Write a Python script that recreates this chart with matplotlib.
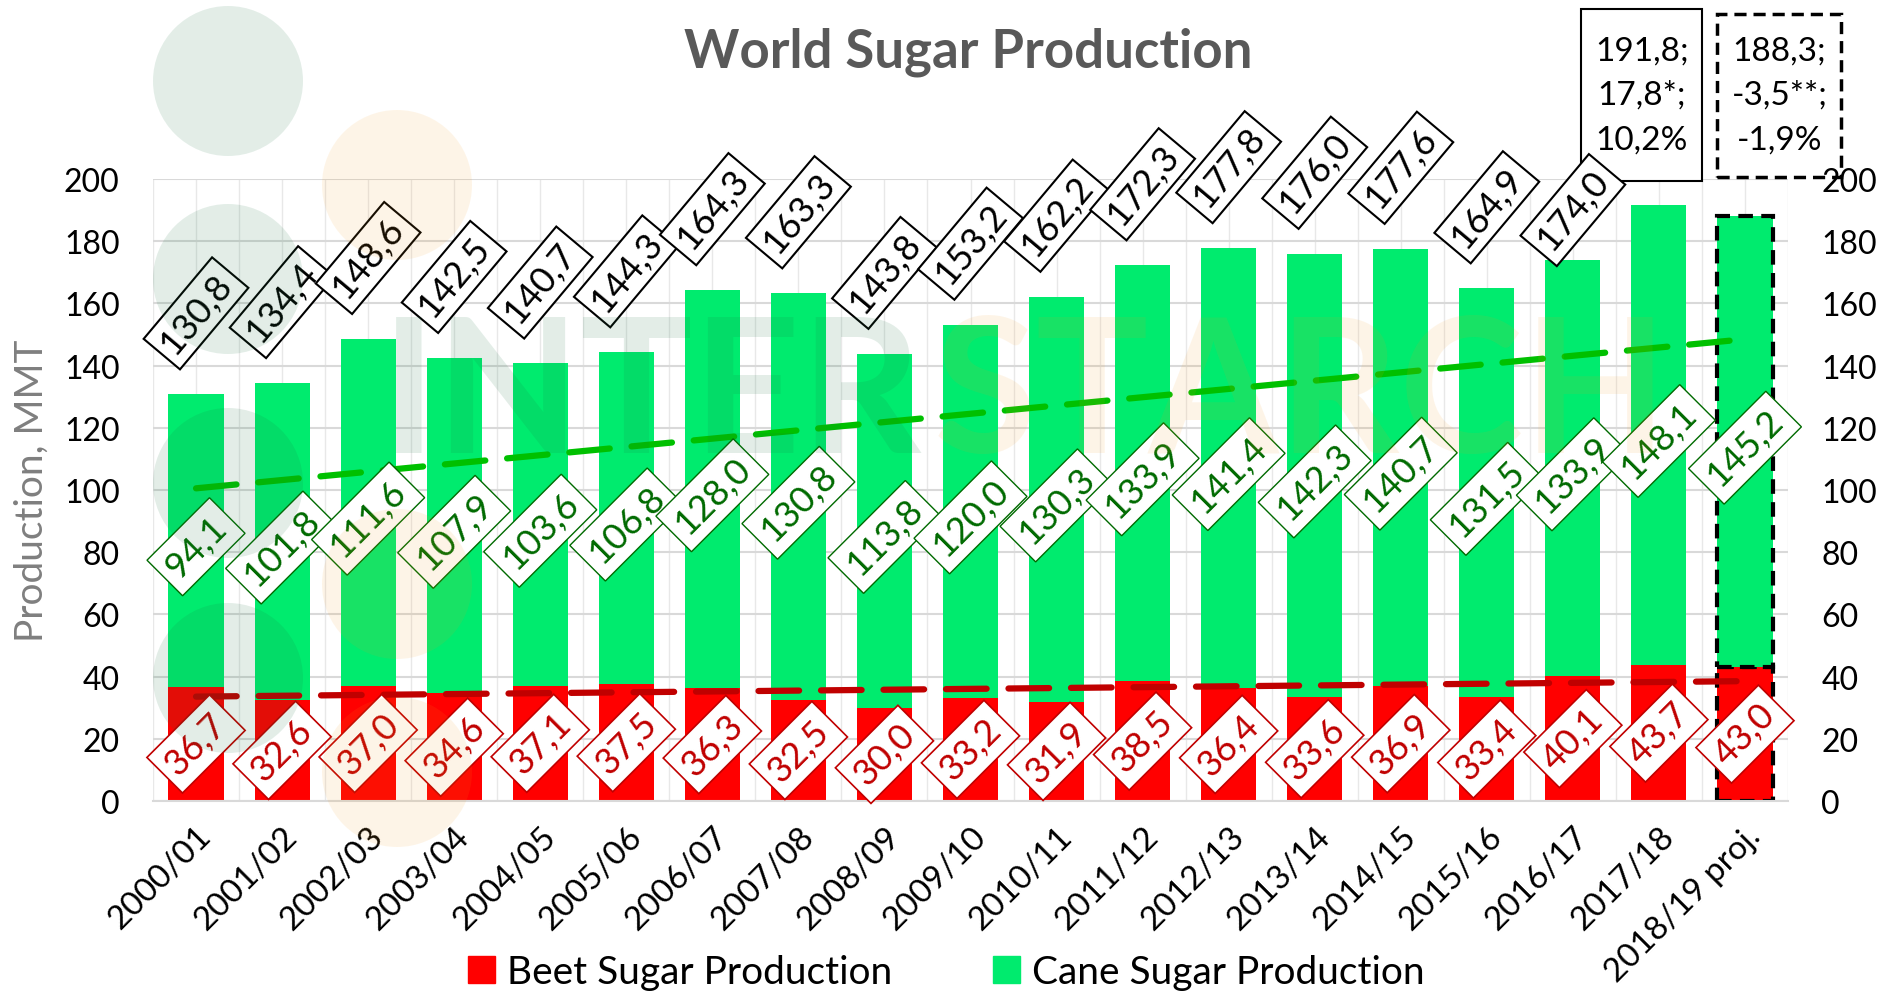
import matplotlib.pyplot as plt
import numpy as np
from matplotlib.patches import Patch, Rectangle, Ellipse

plt.rcParams['font.family'] = ['Lato', 'DejaVu Sans']

seasons = ["2000/01", "2001/02", "2002/03", "2003/04", "2004/05", "2005/06",
           "2006/07", "2007/08", "2008/09", "2009/10", "2010/11", "2011/12",
           "2012/13", "2013/14", "2014/15", "2015/16", "2016/17", "2017/18",
           "2018/19 proj."]
beet = [36.7, 32.6, 37.0, 34.6, 37.1, 37.5, 36.3, 32.5, 30.0, 33.2,
        31.9, 38.5, 36.4, 33.6, 36.9, 33.4, 40.1, 43.7, 43.0]
cane = [94.1, 101.8, 111.6, 107.9, 103.6, 106.8, 128.0, 130.8, 113.8, 120.0,
        130.3, 133.9, 141.4, 142.3, 140.7, 131.5, 133.9, 148.1, 145.2]
totals = [130.8, 134.4, 148.6, 142.5, 140.7, 144.3, 164.3, 163.3, 143.8, 153.2,
          162.2, 172.3, 177.8, 176.0, 177.6, 164.9, 174.0, 191.8, 188.3]
box_last = ["191,8;", "17,8*;", "10,2%"]
box_proj = ["188,3;", "-3,5**;", "-1,9%"]

W, H = 1885, 995
RED = '#ff0000'
GREEN = '#00eb6e'
DARK_RED = '#c00000'
DARK_GREEN = '#006a00'
LABEL_FS = 26


def fmt(v):
    return f"{v:.1f}".replace('.', ',')


fig = plt.figure(figsize=(W / 100, H / 100), dpi=100)
ax = fig.add_axes([153 / W, 1 - 802 / H, (1788 - 153) / W, (802 - 180) / H])

x = np.arange(len(seasons))
beet_a = np.array(beet)
cane_a = np.array(cane)

# grid
for g in np.arange(-0.5, len(seasons), 0.5):
    ax.axvline(g, color='#e8e8e8', lw=1, zorder=0)
ax.set_yticks(np.arange(0, 201, 20))
ax.yaxis.grid(True, color='#d9d9d9', lw=1.5, zorder=0)
ax.set_axisbelow(True)

b1 = ax.bar(x, beet_a, width=0.64, color=RED, zorder=2)
b2 = ax.bar(x, cane_a, bottom=beet_a, width=0.64, color=GREEN, zorder=2)
for b in (b1[-1], b2[-1]):
    b.set_edgecolor('black')
    b.set_linestyle((0, (3.5, 2)))
    b.set_linewidth(3)

# trend lines
for vals, col in ((beet_a, DARK_RED), (cane_a, '#00c000')):
    k, c0 = np.polyfit(x, vals, 1)
    ax.plot(x, k * x + c0, color=col, lw=4.5, dashes=(6.5, 3.5),
            dash_capstyle='round', zorder=3)

# data labels
for i in range(len(seasons)):
    ax.text(i, beet[i] / 2, fmt(beet[i]), rotation=45, ha='center', va='center',
            color=DARK_RED, fontsize=LABEL_FS, zorder=6,
            bbox=dict(boxstyle='square,pad=0.24', fc='white', ec=DARK_RED, lw=1.2))
    ax.text(i, beet[i] + cane[i] / 2 - 2, fmt(cane[i]), rotation=45, ha='center',
            va='center', color=DARK_GREEN, fontsize=LABEL_FS, zorder=6,
            bbox=dict(boxstyle='square,pad=0.24', fc='white', ec=DARK_GREEN, lw=1.0))
    if i < len(seasons) - 2:
        lift = 16 if i == len(seasons) - 3 else 26
        ax.text(i, totals[i] + lift, fmt(totals[i]), rotation=50, ha='center',
                va='center', color='black', fontsize=LABEL_FS, zorder=8,
                bbox=dict(boxstyle='square,pad=0.2', fc='white', ec='black', lw=1.5))

# summary boxes above last two bars
ax.add_patch(Rectangle((16.09, 199.4), 1.41, 55.3, fc='white', ec='black',
                       lw=1.5, clip_on=False, zorder=6))
ax.text(16.8, 227, "\n".join(box_last), ha='center', va='center', fontsize=24,
        linespacing=1.6, zorder=7, clip_on=False)
ax.add_patch(Rectangle((17.67, 200.6), 1.45, 52.4, fc='white', ec='black',
                       lw=2.5, ls=(0, (3.5, 2)), clip_on=False, zorder=6))
ax.text(18.4, 227, "\n".join(box_proj), ha='center', va='center', fontsize=24,
        linespacing=1.6, zorder=7, clip_on=False)

ax.set_xlim(-0.5, len(seasons) - 0.5)
ax.set_ylim(0, 200)
ax.set_xticks(x)
ax.set_xticklabels(seasons, rotation=45, ha='right', rotation_mode='anchor',
                   fontsize=24)
ax.tick_params(axis='x', length=0, pad=14)
ax.tick_params(axis='y', length=0, pad=24, labelsize=23)
for s in ('left', 'right', 'top'):
    ax.spines[s].set_visible(False)
ax.spines['bottom'].set_color('#d9d9d9')
ax.spines['bottom'].set_linewidth(1.5)
ax.set_ylabel("Production, MMT", fontsize=28, color='#7f7f7f', labelpad=10)

ax2 = ax.twinx()
ax2.set_ylim(0, 200)
ax2.set_yticks(np.arange(0, 201, 20))
ax2.tick_params(axis='y', length=0, pad=24, labelsize=23)
for s in ax2.spines.values():
    s.set_visible(False)

fig.text(968 / W, 1 - 52 / H, "World Sugar Production", ha='center', va='center',
         fontsize=38, fontweight='bold', color='#595959')

handles = [Patch(color=RED), Patch(color=GREEN)]
fig.legend(handles, ["Beet Sugar Production", "Cane Sugar Production"],
           loc='center', bbox_to_anchor=(0.502, 0.022), ncol=2, frameon=False,
           fontsize=28, handlelength=0.7, handleheight=0.7,
           handletextpad=0.3, columnspacing=2.6)

# faint watermark logo
wm_green = (0.1, 0.45, 0.25)
wm_orange = (0.96, 0.6, 0.1)
r = 75
for cx, cy in ((228, 82), (228, 280), (228, 484), (228, 679)):
    fig.add_artist(Ellipse((cx / W, 1 - cy / H), 2 * r / W, 2 * r / H,
                           color=wm_green, alpha=0.12, lw=0, zorder=10))
for cx, cy in ((397, 186), (397, 585), (397, 773)):
    fig.add_artist(Ellipse((cx / W, 1 - cy / H), 2 * r / W, 2 * r / H,
                           color=wm_orange, alpha=0.1, lw=0, zorder=10))
fig.text(381 / W, 1 - 453 / H, "INTER", ha='left', va='baseline', fontsize=135,
         fontweight='bold', color=wm_green, alpha=0.12, zorder=10)
fig.text(934 / W, 1 - 453 / H, "STARCH", ha='left', va='baseline', fontsize=135,
         fontweight='bold', color=wm_orange, alpha=0.1, zorder=10)

fig.savefig("out.png", dpi=100)
